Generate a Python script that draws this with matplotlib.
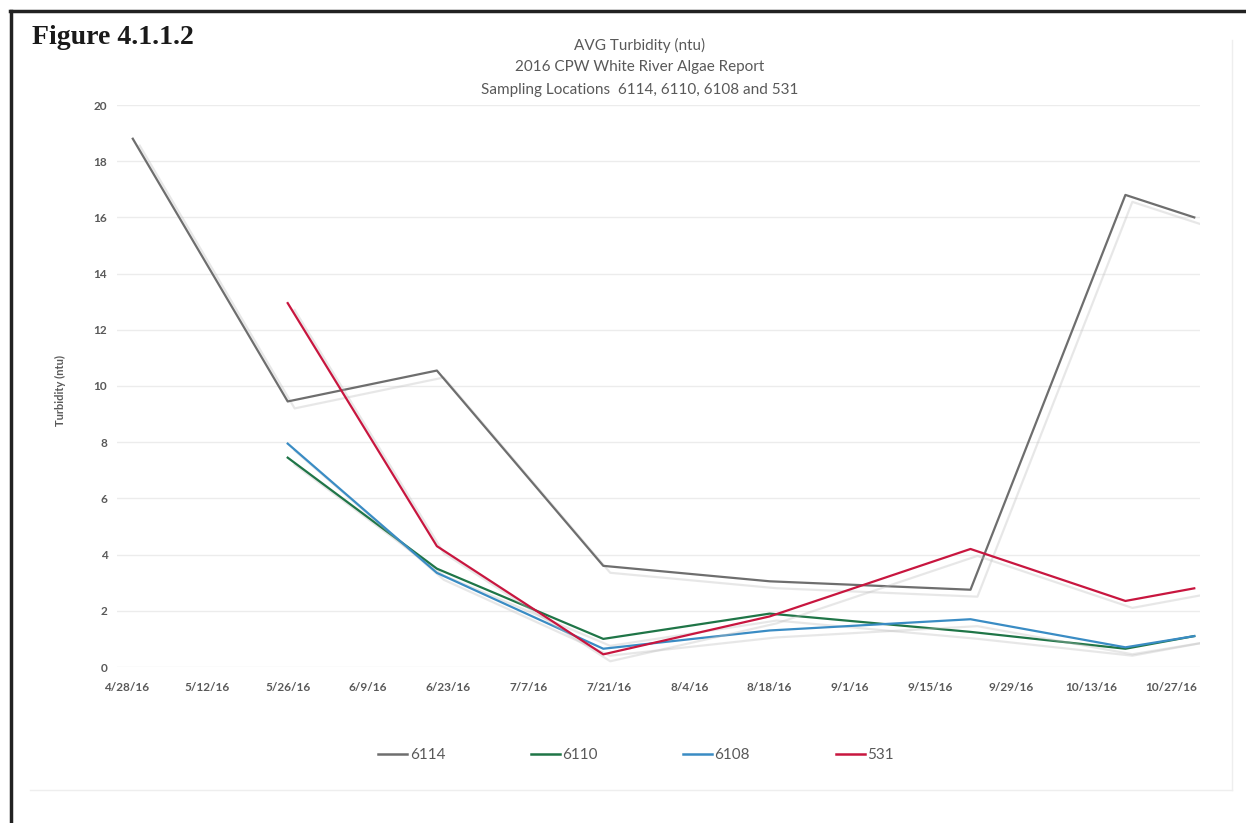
import numpy as np
import matplotlib
matplotlib.use("Agg")
import matplotlib.pyplot as plt
import matplotlib.dates as mdates
import matplotlib.patheffects as pe
from matplotlib.lines import Line2D
from datetime import date, timedelta

# sampling dates and average turbidity (ntu) per location
sample_dates = ["2016-04-29", "2016-05-26", "2016-06-21", "2016-07-20",
                "2016-08-18", "2016-09-22", "2016-10-19", "2016-10-31"]
site_6114 = [18.8, 9.45, 10.55, 3.6, 3.05, 2.75, 16.8, 16.0]
site_6110 = [np.nan, 7.45, 3.5, 1.0, 1.9, 1.25, 0.65, 1.1]
site_6108 = [np.nan, 7.95, 3.35, 0.65, 1.3, 1.7, 0.7, 1.1]
site_531 = [np.nan, 12.95, 4.3, 0.45, 1.8, 4.2, 2.35, 2.8]

series = [("6114", site_6114, "#6e6e6e"),
          ("6110", site_6110, "#1f7547"),
          ("6108", site_6108, "#3a8cc4"),
          ("531", site_531, "#c8163f")]

text_grey = "#595959"
plt.rcParams['font.family'] = ['Lato', 'DejaVu Sans']

W, H = 1246, 823
fig = plt.figure(figsize=(W / 100, H / 100), dpi=100)
ax = fig.add_axes([117 / W, 1 - 667 / H, (1200 - 117) / W, (667 - 105) / H])

x = [mdates.datestr2num(d) for d in sample_dates]
shadow = [pe.SimpleLineShadow(offset=(5, -5), shadow_color="#bdbdbd", alpha=0.35),
          pe.Normal()]
handles = []
for name, vals, col in series:
    ax.plot(x, vals, color=col, lw=1.6, path_effects=shadow)
    handles.append(Line2D([], [], color=col, lw=1.8, label=name))

# axes styling
first_tick = date(2016, 4, 28)
ticks = [first_tick + timedelta(days=14 * i) for i in range(14)]
ax.set_xticks([mdates.date2num(t) for t in ticks])
ax.set_xticklabels([f"{t.month}/{t.day}/{t:%y}" for t in ticks])
ax.set_xlim(mdates.date2num(first_tick) - 1.75, mdates.date2num(first_tick) + 187)
ax.set_ylim(0, 20)
ax.set_yticks(range(0, 21, 2))
ax.tick_params(length=0, labelcolor=text_grey, labelsize=8.5)
ax.tick_params(axis="x", pad=11)
ax.tick_params(axis="y", pad=7)
for lbl in ax.get_xticklabels() + ax.get_yticklabels():
    lbl.set_fontweight("bold")
ax.grid(axis="y", color="#ececec", lw=1)
ax.set_axisbelow(True)
for s in ax.spines.values():
    s.set_visible(False)

fig.text(60 / W, 1 - 390 / H, "Turbidity (ntu)", rotation=90, ha="center",
         va="center", fontsize=8, color=text_grey, fontweight="bold")

title_lines = ["AVG Turbidity (ntu)", "2016 CPW White River Algae Report",
               "Sampling Locations  6114, 6110, 6108 and 531"]
for i, line in enumerate(title_lines):
    fig.text(640 / W, 1 - (45 + 22.5 * i) / H, line, ha="center", va="center",
             fontsize=11, color=text_grey)

fig.text(32 / W, 1 - 37 / H, "Figure 4.1.1.2", ha="left", va="center",
         fontsize=20, fontweight="bold", family="Liberation Serif", color="#1a1a1a")

leg = fig.legend(handles=handles, loc="center", bbox_to_anchor=(636 / W, 1 - 755 / H),
                 ncol=4, frameon=False, handlelength=1.9, handletextpad=0.15,
                 columnspacing=5.6, fontsize=11)
for t in leg.get_texts():
    t.set_color(text_grey)

# page border and faint chart-area edge
fig.add_artist(Line2D([10 / W, 1], [1 - 11 / H, 1 - 11 / H], color="#222222", lw=2.5))
fig.add_artist(Line2D([11 / W, 11 / W], [0, 1 - 11 / H], color="#222222", lw=2.5))
fig.add_artist(Line2D([30 / W, 1232 / W], [1 - 790 / H, 1 - 790 / H], color="#eeeeee", lw=1))
fig.add_artist(Line2D([1232 / W, 1232 / W], [1 - 790 / H, 1 - 40 / H], color="#eeeeee", lw=1))

fig.savefig("out.png", dpi=100)
